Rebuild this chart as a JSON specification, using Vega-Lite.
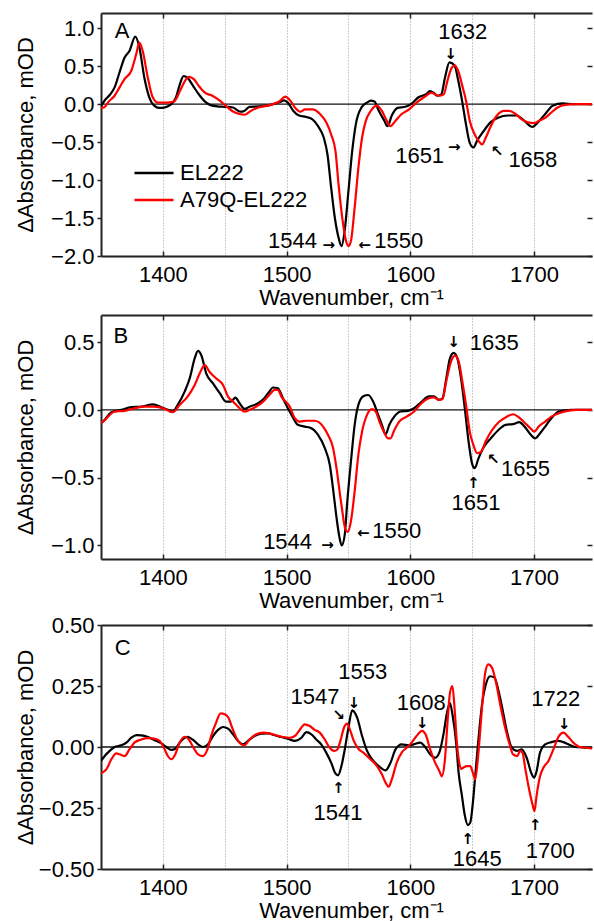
{
"$schema": "https://vega.github.io/schema/vega-lite/v6.json",
"autosize": {"type": "pad"},
"padding": {"left": 13, "top": 12, "right": 0, "bottom": 2},
"config": {
  "font": "Liberation Sans",
  "view": {"stroke": null},
  "axis": {"labelFont": "Liberation Sans", "labelFontSize": 22, "labelColor": "#000", "titleFont": "Liberation Sans", "titleFontSize": 22, "titleFontWeight": "normal", "titleColor": "#000", "domainColor": "#222", "domainWidth": 2, "tickColor": "#222", "tickWidth": 1.5, "grid": false},
  "text": {"font": "Liberation Sans", "fontSize": 22, "color": "#000"},
  "legend": {"labelFont": "Liberation Sans", "labelFontSize": 22, "labelColor": "#000"}
},
"datasets": {
"A": [
{"w":1350,"v":-0.03,"s":"EL222"},{"w":1353,"v":0.05,"s":"EL222"},{"w":1357,"v":0.12,"s":"EL222"},{"w":1361,"v":0.22,"s":"EL222"},{"w":1365,"v":0.42,"s":"EL222"},{"w":1369,"v":0.61,"s":"EL222"},{"w":1373,"v":0.7,"s":"EL222"},{"w":1377.7,"v":0.89,"s":"EL222"},{"w":1381,"v":0.75,"s":"EL222"},{"w":1385,"v":0.35,"s":"EL222"},{"w":1389,"v":0.09,"s":"EL222"},{"w":1393,"v":-0.02,"s":"EL222"},{"w":1397,"v":-0.05,"s":"EL222"},{"w":1401,"v":-0.045,"s":"EL222"},{"w":1406,"v":-0.01,"s":"EL222"},{"w":1410.6,"v":0.09,"s":"EL222"},{"w":1413.7,"v":0.26,"s":"EL222"},{"w":1416.7,"v":0.37,"s":"EL222"},{"w":1419.8,"v":0.35,"s":"EL222"},{"w":1424.4,"v":0.24,"s":"EL222"},{"w":1429,"v":0.13,"s":"EL222"},{"w":1433.6,"v":0.04,"s":"EL222"},{"w":1438,"v":-0.01,"s":"EL222"},{"w":1444,"v":-0.03,"s":"EL222"},{"w":1450,"v":-0.035,"s":"EL222"},{"w":1456.6,"v":-0.045,"s":"EL222"},{"w":1462.7,"v":-0.1,"s":"EL222"},{"w":1465.7,"v":-0.09,"s":"EL222"},{"w":1470,"v":-0.035,"s":"EL222"},{"w":1478,"v":-0.03,"s":"EL222"},{"w":1487,"v":-0.01,"s":"EL222"},{"w":1494.8,"v":0.03,"s":"EL222"},{"w":1497.9,"v":0.05,"s":"EL222"},{"w":1501,"v":0.02,"s":"EL222"},{"w":1505.5,"v":-0.09,"s":"EL222"},{"w":1510,"v":-0.15,"s":"EL222"},{"w":1516,"v":-0.17,"s":"EL222"},{"w":1520.9,"v":-0.2,"s":"EL222"},{"w":1525.4,"v":-0.29,"s":"EL222"},{"w":1530,"v":-0.44,"s":"EL222"},{"w":1533,"v":-0.66,"s":"EL222"},{"w":1536,"v":-1.1,"s":"EL222"},{"w":1539,"v":-1.5,"s":"EL222"},{"w":1542,"v":-1.76,"s":"EL222"},{"w":1544.4,"v":-1.87,"s":"EL222"},{"w":1546.9,"v":-1.67,"s":"EL222"},{"w":1550,"v":-1.14,"s":"EL222"},{"w":1553,"v":-0.62,"s":"EL222"},{"w":1556,"v":-0.26,"s":"EL222"},{"w":1560.7,"v":-0.04,"s":"EL222"},{"w":1565,"v":0.02,"s":"EL222"},{"w":1568,"v":0.045,"s":"EL222"},{"w":1571,"v":0.035,"s":"EL222"},{"w":1574,"v":-0.07,"s":"EL222"},{"w":1579,"v":-0.22,"s":"EL222"},{"w":1581.5,"v":-0.29,"s":"EL222"},{"w":1585,"v":-0.15,"s":"EL222"},{"w":1589.7,"v":-0.05,"s":"EL222"},{"w":1596,"v":-0.035,"s":"EL222"},{"w":1600.5,"v":0,"s":"EL222"},{"w":1606.6,"v":0.09,"s":"EL222"},{"w":1612.7,"v":0.13,"s":"EL222"},{"w":1615.8,"v":0.17,"s":"EL222"},{"w":1618.8,"v":0.15,"s":"EL222"},{"w":1621.9,"v":0.11,"s":"EL222"},{"w":1625,"v":0.13,"s":"EL222"},{"w":1628,"v":0.35,"s":"EL222"},{"w":1631.6,"v":0.55,"s":"EL222"},{"w":1635.7,"v":0.51,"s":"EL222"},{"w":1638.7,"v":0.31,"s":"EL222"},{"w":1641.8,"v":0.045,"s":"EL222"},{"w":1644.9,"v":-0.26,"s":"EL222"},{"w":1648,"v":-0.51,"s":"EL222"},{"w":1651,"v":-0.57,"s":"EL222"},{"w":1654,"v":-0.48,"s":"EL222"},{"w":1658.6,"v":-0.37,"s":"EL222"},{"w":1664.7,"v":-0.24,"s":"EL222"},{"w":1670.9,"v":-0.18,"s":"EL222"},{"w":1678.5,"v":-0.15,"s":"EL222"},{"w":1686,"v":-0.15,"s":"EL222"},{"w":1690.8,"v":-0.2,"s":"EL222"},{"w":1697,"v":-0.29,"s":"EL222"},{"w":1699,"v":-0.3,"s":"EL222"},{"w":1703,"v":-0.24,"s":"EL222"},{"w":1709,"v":-0.13,"s":"EL222"},{"w":1715,"v":-0.02,"s":"EL222"},{"w":1723,"v":0.01,"s":"EL222"},{"w":1732,"v":0,"s":"EL222"},{"w":1750,"v":0,"s":"EL222"},
{"w":1350,"v":-0.05,"s":"A79Q-EL222"},{"w":1352.7,"v":-0.04,"s":"A79Q-EL222"},{"w":1356,"v":0.03,"s":"A79Q-EL222"},{"w":1361,"v":0.11,"s":"A79Q-EL222"},{"w":1365,"v":0.22,"s":"A79Q-EL222"},{"w":1369,"v":0.33,"s":"A79Q-EL222"},{"w":1374.5,"v":0.44,"s":"A79Q-EL222"},{"w":1378.5,"v":0.66,"s":"A79Q-EL222"},{"w":1381,"v":0.81,"s":"A79Q-EL222"},{"w":1383.7,"v":0.7,"s":"A79Q-EL222"},{"w":1387.8,"v":0.35,"s":"A79Q-EL222"},{"w":1391.8,"v":0.09,"s":"A79Q-EL222"},{"w":1396,"v":0.02,"s":"A79Q-EL222"},{"w":1403,"v":0.02,"s":"A79Q-EL222"},{"w":1409,"v":0.035,"s":"A79Q-EL222"},{"w":1414,"v":0.18,"s":"A79Q-EL222"},{"w":1418,"v":0.31,"s":"A79Q-EL222"},{"w":1421,"v":0.36,"s":"A79Q-EL222"},{"w":1425,"v":0.33,"s":"A79Q-EL222"},{"w":1429,"v":0.24,"s":"A79Q-EL222"},{"w":1434,"v":0.15,"s":"A79Q-EL222"},{"w":1440,"v":0.11,"s":"A79Q-EL222"},{"w":1446,"v":0.045,"s":"A79Q-EL222"},{"w":1450,"v":-0.01,"s":"A79Q-EL222"},{"w":1456,"v":-0.09,"s":"A79Q-EL222"},{"w":1462,"v":-0.13,"s":"A79Q-EL222"},{"w":1466,"v":-0.14,"s":"A79Q-EL222"},{"w":1471,"v":-0.09,"s":"A79Q-EL222"},{"w":1477,"v":-0.045,"s":"A79Q-EL222"},{"w":1487,"v":-0.01,"s":"A79Q-EL222"},{"w":1494,"v":0.035,"s":"A79Q-EL222"},{"w":1499,"v":0.1,"s":"A79Q-EL222"},{"w":1503,"v":0.045,"s":"A79Q-EL222"},{"w":1507,"v":-0.05,"s":"A79Q-EL222"},{"w":1511,"v":-0.1,"s":"A79Q-EL222"},{"w":1515,"v":-0.07,"s":"A79Q-EL222"},{"w":1521,"v":-0.07,"s":"A79Q-EL222"},{"w":1527,"v":-0.13,"s":"A79Q-EL222"},{"w":1532,"v":-0.24,"s":"A79Q-EL222"},{"w":1536,"v":-0.4,"s":"A79Q-EL222"},{"w":1539.5,"v":-0.62,"s":"A79Q-EL222"},{"w":1542,"v":-1.06,"s":"A79Q-EL222"},{"w":1545,"v":-1.5,"s":"A79Q-EL222"},{"w":1548,"v":-1.8,"s":"A79Q-EL222"},{"w":1550,"v":-1.87,"s":"A79Q-EL222"},{"w":1552,"v":-1.8,"s":"A79Q-EL222"},{"w":1555,"v":-1.36,"s":"A79Q-EL222"},{"w":1558,"v":-0.84,"s":"A79Q-EL222"},{"w":1561,"v":-0.44,"s":"A79Q-EL222"},{"w":1564,"v":-0.22,"s":"A79Q-EL222"},{"w":1568,"v":-0.09,"s":"A79Q-EL222"},{"w":1573,"v":-0.02,"s":"A79Q-EL222"},{"w":1577,"v":-0.09,"s":"A79Q-EL222"},{"w":1581,"v":-0.22,"s":"A79Q-EL222"},{"w":1584,"v":-0.29,"s":"A79Q-EL222"},{"w":1588,"v":-0.22,"s":"A79Q-EL222"},{"w":1593,"v":-0.13,"s":"A79Q-EL222"},{"w":1599,"v":-0.07,"s":"A79Q-EL222"},{"w":1605,"v":0.02,"s":"A79Q-EL222"},{"w":1611,"v":0.09,"s":"A79Q-EL222"},{"w":1617,"v":0.15,"s":"A79Q-EL222"},{"w":1620,"v":0.13,"s":"A79Q-EL222"},{"w":1623,"v":0.11,"s":"A79Q-EL222"},{"w":1627,"v":0.13,"s":"A79Q-EL222"},{"w":1630,"v":0.31,"s":"A79Q-EL222"},{"w":1633.5,"v":0.48,"s":"A79Q-EL222"},{"w":1636,"v":0.51,"s":"A79Q-EL222"},{"w":1639,"v":0.42,"s":"A79Q-EL222"},{"w":1642,"v":0.24,"s":"A79Q-EL222"},{"w":1645,"v":0.045,"s":"A79Q-EL222"},{"w":1648,"v":-0.22,"s":"A79Q-EL222"},{"w":1652,"v":-0.4,"s":"A79Q-EL222"},{"w":1655,"v":-0.48,"s":"A79Q-EL222"},{"w":1658,"v":-0.53,"s":"A79Q-EL222"},{"w":1661,"v":-0.44,"s":"A79Q-EL222"},{"w":1665,"v":-0.29,"s":"A79Q-EL222"},{"w":1670,"v":-0.15,"s":"A79Q-EL222"},{"w":1676,"v":-0.09,"s":"A79Q-EL222"},{"w":1680,"v":-0.09,"s":"A79Q-EL222"},{"w":1685,"v":-0.13,"s":"A79Q-EL222"},{"w":1690,"v":-0.2,"s":"A79Q-EL222"},{"w":1695,"v":-0.24,"s":"A79Q-EL222"},{"w":1700,"v":-0.25,"s":"A79Q-EL222"},{"w":1704,"v":-0.22,"s":"A79Q-EL222"},{"w":1709,"v":-0.18,"s":"A79Q-EL222"},{"w":1714,"v":-0.11,"s":"A79Q-EL222"},{"w":1719,"v":-0.045,"s":"A79Q-EL222"},{"w":1725,"v":-0.01,"s":"A79Q-EL222"},{"w":1735,"v":0,"s":"A79Q-EL222"},{"w":1750,"v":0,"s":"A79Q-EL222"}
],
"B": [
{"w":1350,"v":-0.095,"s":"EL222"},{"w":1351.6,"v":-0.086,"s":"EL222"},{"w":1358.4,"v":-0.017,"s":"EL222"},{"w":1366.4,"v":0,"s":"EL222"},{"w":1374.5,"v":0.02,"s":"EL222"},{"w":1382.6,"v":0.024,"s":"EL222"},{"w":1392,"v":0.04,"s":"EL222"},{"w":1398.8,"v":0.02,"s":"EL222"},{"w":1404,"v":0,"s":"EL222"},{"w":1408,"v":-0.012,"s":"EL222"},{"w":1412,"v":0.037,"s":"EL222"},{"w":1417.6,"v":0.135,"s":"EL222"},{"w":1421.7,"v":0.233,"s":"EL222"},{"w":1425.7,"v":0.38,"s":"EL222"},{"w":1428.4,"v":0.435,"s":"EL222"},{"w":1431,"v":0.405,"s":"EL222"},{"w":1435,"v":0.27,"s":"EL222"},{"w":1440.5,"v":0.196,"s":"EL222"},{"w":1446,"v":0.123,"s":"EL222"},{"w":1451,"v":0.061,"s":"EL222"},{"w":1455,"v":0.061,"s":"EL222"},{"w":1458.6,"v":0.09,"s":"EL222"},{"w":1462,"v":0.049,"s":"EL222"},{"w":1466,"v":0.007,"s":"EL222"},{"w":1470,"v":0.024,"s":"EL222"},{"w":1477,"v":0.049,"s":"EL222"},{"w":1482,"v":0.086,"s":"EL222"},{"w":1486,"v":0.135,"s":"EL222"},{"w":1489,"v":0.165,"s":"EL222"},{"w":1493,"v":0.16,"s":"EL222"},{"w":1497,"v":0.086,"s":"EL222"},{"w":1501,"v":0.012,"s":"EL222"},{"w":1504,"v":-0.037,"s":"EL222"},{"w":1509,"v":-0.11,"s":"EL222"},{"w":1514.6,"v":-0.123,"s":"EL222"},{"w":1520,"v":-0.135,"s":"EL222"},{"w":1525.4,"v":-0.185,"s":"EL222"},{"w":1530.8,"v":-0.28,"s":"EL222"},{"w":1535,"v":-0.41,"s":"EL222"},{"w":1537.5,"v":-0.58,"s":"EL222"},{"w":1540,"v":-0.77,"s":"EL222"},{"w":1542.5,"v":-0.93,"s":"EL222"},{"w":1544.5,"v":-1.0,"s":"EL222"},{"w":1547,"v":-0.92,"s":"EL222"},{"w":1549,"v":-0.68,"s":"EL222"},{"w":1552,"v":-0.38,"s":"EL222"},{"w":1555,"v":-0.11,"s":"EL222"},{"w":1558,"v":0.037,"s":"EL222"},{"w":1562,"v":0.1,"s":"EL222"},{"w":1566,"v":0.11,"s":"EL222"},{"w":1570,"v":0.06,"s":"EL222"},{"w":1574,"v":-0.037,"s":"EL222"},{"w":1577,"v":-0.11,"s":"EL222"},{"w":1580,"v":-0.18,"s":"EL222"},{"w":1583,"v":-0.11,"s":"EL222"},{"w":1587,"v":-0.05,"s":"EL222"},{"w":1592,"v":-0.012,"s":"EL222"},{"w":1598,"v":-0.007,"s":"EL222"},{"w":1603,"v":0.012,"s":"EL222"},{"w":1609,"v":0.06,"s":"EL222"},{"w":1615,"v":0.1,"s":"EL222"},{"w":1619,"v":0.1,"s":"EL222"},{"w":1623,"v":0.074,"s":"EL222"},{"w":1626,"v":0.086,"s":"EL222"},{"w":1629,"v":0.23,"s":"EL222"},{"w":1632,"v":0.38,"s":"EL222"},{"w":1635,"v":0.42,"s":"EL222"},{"w":1638,"v":0.38,"s":"EL222"},{"w":1641,"v":0.23,"s":"EL222"},{"w":1644,"v":0.012,"s":"EL222"},{"w":1647,"v":-0.23,"s":"EL222"},{"w":1650,"v":-0.4,"s":"EL222"},{"w":1652,"v":-0.43,"s":"EL222"},{"w":1655,"v":-0.36,"s":"EL222"},{"w":1659,"v":-0.28,"s":"EL222"},{"w":1665,"v":-0.21,"s":"EL222"},{"w":1671,"v":-0.15,"s":"EL222"},{"w":1677,"v":-0.11,"s":"EL222"},{"w":1683,"v":-0.105,"s":"EL222"},{"w":1688,"v":-0.09,"s":"EL222"},{"w":1692,"v":-0.12,"s":"EL222"},{"w":1697,"v":-0.18,"s":"EL222"},{"w":1701,"v":-0.21,"s":"EL222"},{"w":1705,"v":-0.17,"s":"EL222"},{"w":1710,"v":-0.11,"s":"EL222"},{"w":1715,"v":-0.05,"s":"EL222"},{"w":1720,"v":-0.012,"s":"EL222"},{"w":1730,"v":0,"s":"EL222"},{"w":1750,"v":0,"s":"EL222"},
{"w":1350,"v":-0.095,"s":"A79Q-EL222"},{"w":1351.6,"v":-0.086,"s":"A79Q-EL222"},{"w":1361,"v":-0.012,"s":"A79Q-EL222"},{"w":1369,"v":-0.007,"s":"A79Q-EL222"},{"w":1377,"v":0.012,"s":"A79Q-EL222"},{"w":1385,"v":0.024,"s":"A79Q-EL222"},{"w":1393,"v":0.024,"s":"A79Q-EL222"},{"w":1401.5,"v":0.007,"s":"A79Q-EL222"},{"w":1408,"v":-0.017,"s":"A79Q-EL222"},{"w":1413.6,"v":0.037,"s":"A79Q-EL222"},{"w":1420,"v":0.098,"s":"A79Q-EL222"},{"w":1425.7,"v":0.184,"s":"A79Q-EL222"},{"w":1429.8,"v":0.27,"s":"A79Q-EL222"},{"w":1433.8,"v":0.33,"s":"A79Q-EL222"},{"w":1437.8,"v":0.28,"s":"A79Q-EL222"},{"w":1443,"v":0.233,"s":"A79Q-EL222"},{"w":1448.6,"v":0.184,"s":"A79Q-EL222"},{"w":1452.7,"v":0.098,"s":"A79Q-EL222"},{"w":1456.7,"v":0.061,"s":"A79Q-EL222"},{"w":1460.7,"v":0.024,"s":"A79Q-EL222"},{"w":1466,"v":-0.012,"s":"A79Q-EL222"},{"w":1470,"v":0,"s":"A79Q-EL222"},{"w":1475.5,"v":0.024,"s":"A79Q-EL222"},{"w":1481,"v":0.061,"s":"A79Q-EL222"},{"w":1486,"v":0.11,"s":"A79Q-EL222"},{"w":1490.4,"v":0.147,"s":"A79Q-EL222"},{"w":1493,"v":0.147,"s":"A79Q-EL222"},{"w":1495.8,"v":0.098,"s":"A79Q-EL222"},{"w":1502.5,"v":0.025,"s":"A79Q-EL222"},{"w":1506.6,"v":-0.06,"s":"A79Q-EL222"},{"w":1510.6,"v":-0.086,"s":"A79Q-EL222"},{"w":1516,"v":-0.08,"s":"A79Q-EL222"},{"w":1522.7,"v":-0.08,"s":"A79Q-EL222"},{"w":1529.5,"v":-0.123,"s":"A79Q-EL222"},{"w":1533.5,"v":-0.185,"s":"A79Q-EL222"},{"w":1537.5,"v":-0.28,"s":"A79Q-EL222"},{"w":1540,"v":-0.41,"s":"A79Q-EL222"},{"w":1544.3,"v":-0.7,"s":"A79Q-EL222"},{"w":1547.5,"v":-0.88,"s":"A79Q-EL222"},{"w":1549.5,"v":-0.9,"s":"A79Q-EL222"},{"w":1552,"v":-0.82,"s":"A79Q-EL222"},{"w":1555,"v":-0.6,"s":"A79Q-EL222"},{"w":1558,"v":-0.33,"s":"A79Q-EL222"},{"w":1561,"v":-0.16,"s":"A79Q-EL222"},{"w":1565,"v":-0.037,"s":"A79Q-EL222"},{"w":1569,"v":0.005,"s":"A79Q-EL222"},{"w":1572,"v":-0.012,"s":"A79Q-EL222"},{"w":1575,"v":-0.086,"s":"A79Q-EL222"},{"w":1578,"v":-0.15,"s":"A79Q-EL222"},{"w":1582,"v":-0.21,"s":"A79Q-EL222"},{"w":1584,"v":-0.21,"s":"A79Q-EL222"},{"w":1587,"v":-0.15,"s":"A79Q-EL222"},{"w":1591,"v":-0.086,"s":"A79Q-EL222"},{"w":1597,"v":-0.05,"s":"A79Q-EL222"},{"w":1603,"v":-0.012,"s":"A79Q-EL222"},{"w":1609,"v":0.05,"s":"A79Q-EL222"},{"w":1615,"v":0.086,"s":"A79Q-EL222"},{"w":1619,"v":0.093,"s":"A79Q-EL222"},{"w":1623,"v":0.074,"s":"A79Q-EL222"},{"w":1626,"v":0.08,"s":"A79Q-EL222"},{"w":1629,"v":0.21,"s":"A79Q-EL222"},{"w":1633,"v":0.36,"s":"A79Q-EL222"},{"w":1636,"v":0.4,"s":"A79Q-EL222"},{"w":1639,"v":0.36,"s":"A79Q-EL222"},{"w":1642,"v":0.21,"s":"A79Q-EL222"},{"w":1645,"v":0.037,"s":"A79Q-EL222"},{"w":1648,"v":-0.16,"s":"A79Q-EL222"},{"w":1651,"v":-0.26,"s":"A79Q-EL222"},{"w":1654,"v":-0.32,"s":"A79Q-EL222"},{"w":1657,"v":-0.31,"s":"A79Q-EL222"},{"w":1661,"v":-0.23,"s":"A79Q-EL222"},{"w":1666,"v":-0.15,"s":"A79Q-EL222"},{"w":1672,"v":-0.086,"s":"A79Q-EL222"},{"w":1678,"v":-0.05,"s":"A79Q-EL222"},{"w":1683,"v":-0.032,"s":"A79Q-EL222"},{"w":1688,"v":-0.057,"s":"A79Q-EL222"},{"w":1693,"v":-0.1,"s":"A79Q-EL222"},{"w":1697,"v":-0.135,"s":"A79Q-EL222"},{"w":1700,"v":-0.16,"s":"A79Q-EL222"},{"w":1704,"v":-0.12,"s":"A79Q-EL222"},{"w":1709,"v":-0.086,"s":"A79Q-EL222"},{"w":1714,"v":-0.05,"s":"A79Q-EL222"},{"w":1720,"v":-0.025,"s":"A79Q-EL222"},{"w":1727,"v":-0.007,"s":"A79Q-EL222"},{"w":1735,"v":0,"s":"A79Q-EL222"},{"w":1750,"v":0,"s":"A79Q-EL222"}
],
"C": [
{"w":1350,"v":-0.057,"s":"EL222"},{"w":1353,"v":-0.037,"s":"EL222"},{"w":1357,"v":-0.016,"s":"EL222"},{"w":1361,"v":0,"s":"EL222"},{"w":1366.4,"v":0.007,"s":"EL222"},{"w":1370.5,"v":0.018,"s":"EL222"},{"w":1374.5,"v":0.038,"s":"EL222"},{"w":1378.6,"v":0.049,"s":"EL222"},{"w":1382.6,"v":0.048,"s":"EL222"},{"w":1388,"v":0.041,"s":"EL222"},{"w":1393,"v":0.029,"s":"EL222"},{"w":1398.8,"v":0.015,"s":"EL222"},{"w":1402.8,"v":0,"s":"EL222"},{"w":1406.9,"v":-0.012,"s":"EL222"},{"w":1410,"v":-0.007,"s":"EL222"},{"w":1413.6,"v":0.018,"s":"EL222"},{"w":1417.6,"v":0.038,"s":"EL222"},{"w":1420,"v":0.042,"s":"EL222"},{"w":1424.4,"v":0.029,"s":"EL222"},{"w":1428.4,"v":0.011,"s":"EL222"},{"w":1432.5,"v":0,"s":"EL222"},{"w":1436.5,"v":0.011,"s":"EL222"},{"w":1440.5,"v":0.045,"s":"EL222"},{"w":1444.6,"v":0.07,"s":"EL222"},{"w":1448.6,"v":0.082,"s":"EL222"},{"w":1452.7,"v":0.075,"s":"EL222"},{"w":1456.7,"v":0.052,"s":"EL222"},{"w":1460.7,"v":0.025,"s":"EL222"},{"w":1464.8,"v":0.011,"s":"EL222"},{"w":1468.8,"v":0.025,"s":"EL222"},{"w":1474,"v":0.045,"s":"EL222"},{"w":1479.6,"v":0.055,"s":"EL222"},{"w":1485,"v":0.056,"s":"EL222"},{"w":1490.4,"v":0.048,"s":"EL222"},{"w":1495.8,"v":0.041,"s":"EL222"},{"w":1501,"v":0.034,"s":"EL222"},{"w":1506.6,"v":0.025,"s":"EL222"},{"w":1512,"v":0.038,"s":"EL222"},{"w":1516,"v":0.061,"s":"EL222"},{"w":1520,"v":0.052,"s":"EL222"},{"w":1524,"v":0.031,"s":"EL222"},{"w":1528,"v":0.011,"s":"EL222"},{"w":1532,"v":-0.023,"s":"EL222"},{"w":1536,"v":-0.064,"s":"EL222"},{"w":1539.4,"v":-0.108,"s":"EL222"},{"w":1541.6,"v":-0.116,"s":"EL222"},{"w":1544.3,"v":-0.078,"s":"EL222"},{"w":1547,"v":-0.01,"s":"EL222"},{"w":1550,"v":0.08,"s":"EL222"},{"w":1553,"v":0.15,"s":"EL222"},{"w":1557,"v":0.12,"s":"EL222"},{"w":1561,"v":0.045,"s":"EL222"},{"w":1565,"v":-0.016,"s":"EL222"},{"w":1569,"v":-0.05,"s":"EL222"},{"w":1574.5,"v":-0.078,"s":"EL222"},{"w":1580,"v":-0.096,"s":"EL222"},{"w":1584,"v":-0.064,"s":"EL222"},{"w":1588,"v":-0.01,"s":"EL222"},{"w":1593,"v":0.011,"s":"EL222"},{"w":1598.7,"v":0.007,"s":"EL222"},{"w":1602.7,"v":0.011,"s":"EL222"},{"w":1608,"v":0.018,"s":"EL222"},{"w":1612,"v":0,"s":"EL222"},{"w":1616,"v":-0.03,"s":"EL222"},{"w":1620,"v":-0.044,"s":"EL222"},{"w":1623.4,"v":-0.023,"s":"EL222"},{"w":1627,"v":0.059,"s":"EL222"},{"w":1629.6,"v":0.14,"s":"EL222"},{"w":1632,"v":0.18,"s":"EL222"},{"w":1634,"v":0.134,"s":"EL222"},{"w":1637,"v":0.018,"s":"EL222"},{"w":1639,"v":-0.105,"s":"EL222"},{"w":1641.7,"v":-0.2,"s":"EL222"},{"w":1644,"v":-0.28,"s":"EL222"},{"w":1646.5,"v":-0.32,"s":"EL222"},{"w":1648.4,"v":-0.31,"s":"EL222"},{"w":1650.5,"v":-0.23,"s":"EL222"},{"w":1652.4,"v":-0.12,"s":"EL222"},{"w":1655,"v":0.03,"s":"EL222"},{"w":1657.8,"v":0.17,"s":"EL222"},{"w":1661,"v":0.256,"s":"EL222"},{"w":1664.5,"v":0.29,"s":"EL222"},{"w":1668,"v":0.284,"s":"EL222"},{"w":1671,"v":0.236,"s":"EL222"},{"w":1674.5,"v":0.154,"s":"EL222"},{"w":1678,"v":0.065,"s":"EL222"},{"w":1682,"v":-0.003,"s":"EL222"},{"w":1686,"v":-0.016,"s":"EL222"},{"w":1690,"v":-0.01,"s":"EL222"},{"w":1694,"v":-0.044,"s":"EL222"},{"w":1698,"v":-0.11,"s":"EL222"},{"w":1700,"v":-0.126,"s":"EL222"},{"w":1702,"v":-0.1,"s":"EL222"},{"w":1704.8,"v":-0.023,"s":"EL222"},{"w":1709,"v":0.011,"s":"EL222"},{"w":1714,"v":0.02,"s":"EL222"},{"w":1719.6,"v":0.025,"s":"EL222"},{"w":1723.7,"v":0.02,"s":"EL222"},{"w":1727.7,"v":0.011,"s":"EL222"},{"w":1733,"v":0,"s":"EL222"},{"w":1750,"v":-0.004,"s":"EL222"},
{"w":1350,"v":-0.108,"s":"A79Q-EL222"},{"w":1354.3,"v":-0.092,"s":"A79Q-EL222"},{"w":1358.4,"v":-0.05,"s":"A79Q-EL222"},{"w":1362.4,"v":-0.026,"s":"A79Q-EL222"},{"w":1365,"v":-0.03,"s":"A79Q-EL222"},{"w":1369,"v":-0.037,"s":"A79Q-EL222"},{"w":1373,"v":-0.01,"s":"A79Q-EL222"},{"w":1377,"v":0.018,"s":"A79Q-EL222"},{"w":1382.6,"v":0.031,"s":"A79Q-EL222"},{"w":1388,"v":0.036,"s":"A79Q-EL222"},{"w":1393,"v":0.034,"s":"A79Q-EL222"},{"w":1397.4,"v":0.025,"s":"A79Q-EL222"},{"w":1401.5,"v":-0.01,"s":"A79Q-EL222"},{"w":1404,"v":-0.037,"s":"A79Q-EL222"},{"w":1406.9,"v":-0.05,"s":"A79Q-EL222"},{"w":1410,"v":-0.03,"s":"A79Q-EL222"},{"w":1413.6,"v":0.018,"s":"A79Q-EL222"},{"w":1417.6,"v":0.042,"s":"A79Q-EL222"},{"w":1421,"v":0.031,"s":"A79Q-EL222"},{"w":1424.4,"v":0,"s":"A79Q-EL222"},{"w":1428.4,"v":-0.03,"s":"A79Q-EL222"},{"w":1432.5,"v":-0.037,"s":"A79Q-EL222"},{"w":1436,"v":-0.01,"s":"A79Q-EL222"},{"w":1439,"v":0.045,"s":"A79Q-EL222"},{"w":1443,"v":0.1,"s":"A79Q-EL222"},{"w":1446.7,"v":0.138,"s":"A79Q-EL222"},{"w":1450,"v":0.134,"s":"A79Q-EL222"},{"w":1453,"v":0.12,"s":"A79Q-EL222"},{"w":1456,"v":0.079,"s":"A79Q-EL222"},{"w":1459.4,"v":0.038,"s":"A79Q-EL222"},{"w":1463.4,"v":0.011,"s":"A79Q-EL222"},{"w":1466,"v":0.007,"s":"A79Q-EL222"},{"w":1470,"v":0.031,"s":"A79Q-EL222"},{"w":1475.5,"v":0.052,"s":"A79Q-EL222"},{"w":1481,"v":0.059,"s":"A79Q-EL222"},{"w":1486,"v":0.056,"s":"A79Q-EL222"},{"w":1491.7,"v":0.048,"s":"A79Q-EL222"},{"w":1497,"v":0.041,"s":"A79Q-EL222"},{"w":1502.5,"v":0.038,"s":"A79Q-EL222"},{"w":1506.6,"v":0.045,"s":"A79Q-EL222"},{"w":1510.6,"v":0.07,"s":"A79Q-EL222"},{"w":1514.6,"v":0.093,"s":"A79Q-EL222"},{"w":1518.7,"v":0.086,"s":"A79Q-EL222"},{"w":1522.7,"v":0.07,"s":"A79Q-EL222"},{"w":1526.8,"v":0.059,"s":"A79Q-EL222"},{"w":1530.8,"v":0.031,"s":"A79Q-EL222"},{"w":1534.8,"v":-0.003,"s":"A79Q-EL222"},{"w":1538.4,"v":-0.016,"s":"A79Q-EL222"},{"w":1541,"v":-0.01,"s":"A79Q-EL222"},{"w":1543.8,"v":0.031,"s":"A79Q-EL222"},{"w":1546.4,"v":0.08,"s":"A79Q-EL222"},{"w":1549,"v":0.096,"s":"A79Q-EL222"},{"w":1551.6,"v":0.065,"s":"A79Q-EL222"},{"w":1554.3,"v":0.025,"s":"A79Q-EL222"},{"w":1558,"v":-0.007,"s":"A79Q-EL222"},{"w":1562,"v":-0.023,"s":"A79Q-EL222"},{"w":1567.7,"v":-0.05,"s":"A79Q-EL222"},{"w":1573,"v":-0.078,"s":"A79Q-EL222"},{"w":1577,"v":-0.112,"s":"A79Q-EL222"},{"w":1580,"v":-0.146,"s":"A79Q-EL222"},{"w":1582.5,"v":-0.163,"s":"A79Q-EL222"},{"w":1585,"v":-0.133,"s":"A79Q-EL222"},{"w":1589,"v":-0.064,"s":"A79Q-EL222"},{"w":1593,"v":-0.023,"s":"A79Q-EL222"},{"w":1597,"v":-0.003,"s":"A79Q-EL222"},{"w":1601,"v":0.018,"s":"A79Q-EL222"},{"w":1605,"v":0.045,"s":"A79Q-EL222"},{"w":1609.4,"v":0.066,"s":"A79Q-EL222"},{"w":1612.6,"v":0.048,"s":"A79Q-EL222"},{"w":1616,"v":-0.01,"s":"A79Q-EL222"},{"w":1620,"v":-0.064,"s":"A79Q-EL222"},{"w":1623.4,"v":-0.098,"s":"A79Q-EL222"},{"w":1625.5,"v":-0.12,"s":"A79Q-EL222"},{"w":1627.7,"v":-0.064,"s":"A79Q-EL222"},{"w":1630.4,"v":0.127,"s":"A79Q-EL222"},{"w":1632,"v":0.222,"s":"A79Q-EL222"},{"w":1634,"v":0.25,"s":"A79Q-EL222"},{"w":1635.8,"v":0.154,"s":"A79Q-EL222"},{"w":1637.6,"v":0.018,"s":"A79Q-EL222"},{"w":1639.5,"v":-0.064,"s":"A79Q-EL222"},{"w":1641,"v":-0.09,"s":"A79Q-EL222"},{"w":1643,"v":-0.084,"s":"A79Q-EL222"},{"w":1645.7,"v":-0.078,"s":"A79Q-EL222"},{"w":1648.4,"v":-0.078,"s":"A79Q-EL222"},{"w":1650.5,"v":-0.105,"s":"A79Q-EL222"},{"w":1652.4,"v":-0.133,"s":"A79Q-EL222"},{"w":1655,"v":-0.023,"s":"A79Q-EL222"},{"w":1657.8,"v":0.154,"s":"A79Q-EL222"},{"w":1660.5,"v":0.305,"s":"A79Q-EL222"},{"w":1663,"v":0.339,"s":"A79Q-EL222"},{"w":1666,"v":0.325,"s":"A79Q-EL222"},{"w":1669,"v":0.27,"s":"A79Q-EL222"},{"w":1672.6,"v":0.175,"s":"A79Q-EL222"},{"w":1676.6,"v":0.079,"s":"A79Q-EL222"},{"w":1680.6,"v":0.004,"s":"A79Q-EL222"},{"w":1683,"v":-0.03,"s":"A79Q-EL222"},{"w":1686.5,"v":-0.037,"s":"A79Q-EL222"},{"w":1688.7,"v":-0.016,"s":"A79Q-EL222"},{"w":1690.6,"v":-0.023,"s":"A79Q-EL222"},{"w":1693,"v":-0.092,"s":"A79Q-EL222"},{"w":1696,"v":-0.174,"s":"A79Q-EL222"},{"w":1698.7,"v":-0.235,"s":"A79Q-EL222"},{"w":1700.3,"v":-0.263,"s":"A79Q-EL222"},{"w":1702,"v":-0.2,"s":"A79Q-EL222"},{"w":1704.8,"v":-0.12,"s":"A79Q-EL222"},{"w":1707.5,"v":-0.085,"s":"A79Q-EL222"},{"w":1711.6,"v":-0.057,"s":"A79Q-EL222"},{"w":1715.6,"v":-0.01,"s":"A79Q-EL222"},{"w":1719.6,"v":0.041,"s":"A79Q-EL222"},{"w":1723.7,"v":0.059,"s":"A79Q-EL222"},{"w":1727.7,"v":0.041,"s":"A79Q-EL222"},{"w":1731.7,"v":0.018,"s":"A79Q-EL222"},{"w":1737,"v":0,"s":"A79Q-EL222"},{"w":1750,"v":-0.007,"s":"A79Q-EL222"}
],
"labA": [{"w":1367,"v":0.96,"t":"A"},{"w":1642.3,"v":0.945,"t":"1632"},{"w":1607.5,"v":-0.68,"t":"1651"},{"w":1699,"v":-0.73,"t":"1658"},{"w":1504.8,"v":-1.8,"t":"1544"},{"w":1590.6,"v":-1.8,"t":"1550"}],
"arrA": [{"w":1632.6,"v":0.66,"t":"↓"},{"w":1635.5,"v":-0.57,"t":"→"},{"w":1670,"v":-0.62,"t":"↖"},{"w":1534,"v":-1.86,"t":"→"},{"w":1563,"v":-1.86,"t":"←"}],
"labB": [{"w":1366,"v":0.548,"t":"B"},{"w":1667.8,"v":0.49,"t":"1635"},{"w":1693,"v":-0.433,"t":"1655"},{"w":1653,"v":-0.69,"t":"1651"},{"w":1500.8,"v":-0.971,"t":"1544"},{"w":1589,"v":-0.89,"t":"1550"}],
"arrB": [{"w":1635,"v":0.5,"t":"↓"},{"w":1667,"v":-0.36,"t":"↖"},{"w":1651,"v":-0.54,"t":"↑"},{"w":1533,"v":-0.996,"t":"→"},{"w":1562,"v":-0.91,"t":"←"}],
"labC": [{"w":1367.6,"v":0.407,"t":"C"},{"w":1561.5,"v":0.309,"t":"1553"},{"w":1523,"v":0.206,"t":"1547"},{"w":1608.8,"v":0.179,"t":"1608"},{"w":1717.5,"v":0.195,"t":"1722"},{"w":1541.5,"v":-0.269,"t":"1541"},{"w":1654,"v":-0.46,"t":"1645"},{"w":1713,"v":-0.426,"t":"1700"}],
"arrC": [{"w":1554.5,"v":0.18,"t":"↓"},{"w":1542,"v":0.13,"t":"↘"},{"w":1609.6,"v":0.098,"t":"↓"},{"w":1724.4,"v":0.095,"t":"↓"},{"w":1542,"v":-0.168,"t":"↑"},{"w":1646.5,"v":-0.376,"t":"↑"},{"w":1701,"v":-0.318,"t":"↑"}],
"zero": [{"z":0}]
},
"bounds": "flush",
"spacing": 59,
"resolve": {"scale": {"color": "independent"}, "legend": {"color": "independent"}},
"vconcat": [
{
 "width": 491, "height": 243,
 "resolve": {"axis": {"x": "independent", "y": "independent"}},
 "layer": [
  {"data": {"name": "zero"}, "mark": {"type": "rule", "color": "#111", "strokeWidth": 1.3},
   "encoding": {"y": {"field": "z", "type": "quantitative", "scale": {"domain": [-2, 1.2], "nice": false, "zero": false}, "axis": null}}},
  {"data": {"name": "A"}, "mark": {"type": "line", "strokeWidth": 2.2, "clip": true, "interpolate": "monotone"},
   "encoding": {
    "x": {"field": "w", "type": "quantitative", "scale": {"domain": [1350, 1746.8], "nice": false, "zero": false},
          "axis": {"orient": "bottom", "values": [1400, 1500, 1600, 1700], "format": "d", "tickSize": -5, "labelPadding": 13, "title": "Wavenumber, cm⁻¹", "titleX": 250, "titleY": 48, "titleBaseline": "alphabetic"}},
    "y": {"field": "v", "type": "quantitative", "scale": {"domain": [-2, 1.2], "nice": false, "zero": false},
          "axis": {"orient": "left", "values": [-2, -1.5, -1, -0.5, 0, 0.5, 1], "format": ".1f", "tickSize": 4, "labelPadding": 3, "title": "ΔAbsorbance, mOD", "titleX": -76, "titleY": 121.5, "titleAngle": -90, "titleAlign": "center", "titleBaseline": "middle"}},
    "color": {"field": "s", "type": "nominal", "scale": {"domain": ["EL222", "A79Q-EL222"], "range": ["#000000", "#ff0000"]},
              "legend": {"orient": "none", "legendX": 42, "legendY": 149, "title": null, "symbolType": "M-3,0H3", "symbolSize": 169, "symbolStrokeWidth": 2.5, "labelOffset": 15, "rowPadding": 5, "labelFontSize": 22}}
   }},
  {"data": {"name": "labA"}, "mark": {"type": "text", "align": "center", "baseline": "middle"},
   "encoding": {
    "x": {"field": "w", "type": "quantitative", "scale": {"domain": [1350, 1746.8], "nice": false, "zero": false},
          "axis": {"orient": "top", "values": [1400, 1450, 1500, 1550, 1600, 1650, 1700], "labels": false, "tickSize": -5, "tickOpacity": {"condition": {"test": "datum.value % 100 === 0", "value": 1}, "value": 0}, "grid": true, "gridDash": [1, 2], "gridColor": "#999", "gridWidth": 1, "title": null}},
    "y": {"field": "v", "type": "quantitative", "scale": {"domain": [-2, 1.2], "nice": false, "zero": false},
          "axis": {"orient": "right", "values": [-2, -1.5, -1, -0.5, 0, 0.5, 1], "labels": false, "tickSize": -5, "domain": false, "title": null}},
    "text": {"field": "t"}
   }},
  {"data": {"name": "arrA"}, "mark": {"type": "text", "align": "center", "baseline": "middle", "font": "DejaVu Sans", "fontWeight": "bold", "fontSize": 15},
   "encoding": {
    "x": {"field": "w", "type": "quantitative", "scale": {"domain": [1350, 1746.8], "nice": false, "zero": false}, "axis": null},
    "y": {"field": "v", "type": "quantitative", "scale": {"domain": [-2, 1.2], "nice": false, "zero": false}, "axis": null},
    "text": {"field": "t"}
   }}
 ]
},
{
 "bounds": "flush",
 "spacing": 66,
 "vconcat": [
 {
 "width": 491, "height": 244,
 "resolve": {"axis": {"x": "independent", "y": "independent"}},
 "layer": [
  {"data": {"name": "zero"}, "mark": {"type": "rule", "color": "#111", "strokeWidth": 1.3},
   "encoding": {"y": {"field": "z", "type": "quantitative", "scale": {"domain": [-1.1, 0.7], "nice": false, "zero": false}, "axis": null}}},
  {"data": {"name": "B"}, "mark": {"type": "line", "strokeWidth": 2.2, "clip": true, "interpolate": "monotone"},
   "encoding": {
    "x": {"field": "w", "type": "quantitative", "scale": {"domain": [1350, 1746.8], "nice": false, "zero": false},
          "axis": {"orient": "bottom", "values": [1400, 1500, 1600, 1700], "format": "d", "tickSize": -5, "labelPadding": 13, "title": "Wavenumber, cm⁻¹", "titleX": 250, "titleY": 48, "titleBaseline": "alphabetic"}},
    "y": {"field": "v", "type": "quantitative", "scale": {"domain": [-1.1, 0.7], "nice": false, "zero": false},
          "axis": {"orient": "left", "values": [-1, -0.5, 0, 0.5], "format": ".1f", "tickSize": 4, "labelPadding": 3, "title": "ΔAbsorbance, mOD", "titleX": -76, "titleY": 122, "titleAngle": -90, "titleAlign": "center", "titleBaseline": "middle"}},
    "color": {"field": "s", "type": "nominal", "scale": {"domain": ["EL222", "A79Q-EL222"], "range": ["#000000", "#ff0000"]}, "legend": null}
   }},
  {"data": {"name": "labB"}, "mark": {"type": "text", "align": "center", "baseline": "middle"},
   "encoding": {
    "x": {"field": "w", "type": "quantitative", "scale": {"domain": [1350, 1746.8], "nice": false, "zero": false},
          "axis": {"orient": "top", "values": [1400, 1450, 1500, 1550, 1600, 1650, 1700], "labels": false, "tickSize": -5, "tickOpacity": {"condition": {"test": "datum.value % 100 === 0", "value": 1}, "value": 0}, "grid": true, "gridDash": [1, 2], "gridColor": "#999", "gridWidth": 1, "title": null}},
    "y": {"field": "v", "type": "quantitative", "scale": {"domain": [-1.1, 0.7], "nice": false, "zero": false},
          "axis": {"orient": "right", "values": [-1, -0.5, 0, 0.5], "labels": false, "tickSize": -5, "domain": false, "title": null}},
    "text": {"field": "t"}
   }},
  {"data": {"name": "arrB"}, "mark": {"type": "text", "align": "center", "baseline": "middle", "font": "DejaVu Sans", "fontWeight": "bold", "fontSize": 15},
   "encoding": {
    "x": {"field": "w", "type": "quantitative", "scale": {"domain": [1350, 1746.8], "nice": false, "zero": false}, "axis": null},
    "y": {"field": "v", "type": "quantitative", "scale": {"domain": [-1.1, 0.7], "nice": false, "zero": false}, "axis": null},
    "text": {"field": "t"}
   }}
 ]
 },
 {
 "width": 491, "height": 244,
 "resolve": {"axis": {"x": "independent", "y": "independent"}},
 "layer": [
  {"data": {"name": "zero"}, "mark": {"type": "rule", "color": "#111", "strokeWidth": 1.3},
   "encoding": {"y": {"field": "z", "type": "quantitative", "scale": {"domain": [-0.5, 0.5], "nice": false, "zero": false}, "axis": null}}},
  {"data": {"name": "C"}, "mark": {"type": "line", "strokeWidth": 2.2, "clip": true, "interpolate": "monotone"},
   "encoding": {
    "x": {"field": "w", "type": "quantitative", "scale": {"domain": [1350, 1746.8], "nice": false, "zero": false},
          "axis": {"orient": "bottom", "values": [1400, 1500, 1600, 1700], "format": "d", "tickSize": -5, "labelPadding": 13, "title": "Wavenumber, cm⁻¹", "titleX": 250, "titleY": 48, "titleBaseline": "alphabetic"}},
    "y": {"field": "v", "type": "quantitative", "scale": {"domain": [-0.5, 0.5], "nice": false, "zero": false},
          "axis": {"orient": "left", "values": [-0.5, -0.25, 0, 0.25, 0.5], "format": ".2f", "tickSize": 4, "labelPadding": 3, "title": "ΔAbsorbance, mOD", "titleX": -76, "titleY": 122, "titleAngle": -90, "titleAlign": "center", "titleBaseline": "middle"}},
    "color": {"field": "s", "type": "nominal", "scale": {"domain": ["EL222", "A79Q-EL222"], "range": ["#000000", "#ff0000"]}, "legend": null}
   }},
  {"data": {"name": "labC"}, "mark": {"type": "text", "align": "center", "baseline": "middle"},
   "encoding": {
    "x": {"field": "w", "type": "quantitative", "scale": {"domain": [1350, 1746.8], "nice": false, "zero": false},
          "axis": {"orient": "top", "values": [1400, 1450, 1500, 1550, 1600, 1650, 1700], "labels": false, "tickSize": -5, "tickOpacity": {"condition": {"test": "datum.value % 100 === 0", "value": 1}, "value": 0}, "grid": true, "gridDash": [1, 2], "gridColor": "#999", "gridWidth": 1, "title": null}},
    "y": {"field": "v", "type": "quantitative", "scale": {"domain": [-0.5, 0.5], "nice": false, "zero": false},
          "axis": {"orient": "right", "values": [-0.5, -0.25, 0, 0.25, 0.5], "labels": false, "tickSize": -5, "domain": false, "title": null}},
    "text": {"field": "t"}
   }},
  {"data": {"name": "arrC"}, "mark": {"type": "text", "align": "center", "baseline": "middle", "font": "DejaVu Sans", "fontWeight": "bold", "fontSize": 15},
   "encoding": {
    "x": {"field": "w", "type": "quantitative", "scale": {"domain": [1350, 1746.8], "nice": false, "zero": false}, "axis": null},
    "y": {"field": "v", "type": "quantitative", "scale": {"domain": [-0.5, 0.5], "nice": false, "zero": false}, "axis": null},
    "text": {"field": "t"}
   }}
 ]
 }
 ]
}
]
}
